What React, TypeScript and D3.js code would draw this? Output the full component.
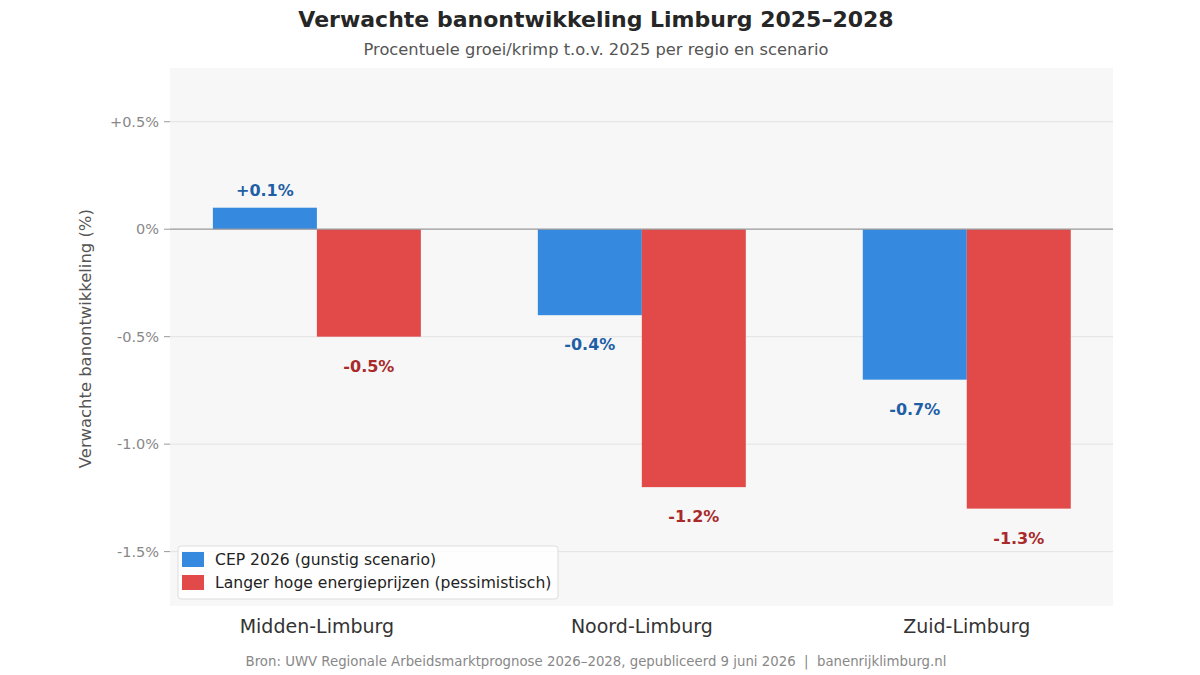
import React from 'react';
import * as d3 from 'd3';

const regions = ['Midden-Limburg', 'Noord-Limburg', 'Zuid-Limburg'];
const seriesNames = ['CEP 2026 (gunstig scenario)', 'Langer hoge energieprijzen (pessimistisch)'];
const cepValues = [0.1, -0.4, -0.7];
const energyValues = [-0.5, -1.2, -1.3];
const yTicks = [0.5, 0, -0.5, -1.0, -1.5];
const yTickLabels = ['+0.5%', '0%', '-0.5%', '-1.0%', '-1.5%'];

const barColors = ['#3589DE', '#E24A4A'];
const labelColors = ['#1F5FA6', '#A82A2A'];
const font = 'DejaVu Sans, sans-serif';

const W = 1200;
const H = 675;
const plot = { left: 170, right: 1113, top: 68, bottom: 606 };

const fmt = (v: number) => (v > 0 ? '+' : '') + v.toFixed(1) + '%';

export default function App() {
  const x = d3.scaleLinear().domain([-0.452, 2.45]).range([plot.left, plot.right]);
  const y = d3.scaleLinear().domain([0.75, -1.753]).range([plot.top, plot.bottom]);
  const barW = x(0.32) - x(0);
  const series = [cepValues, energyValues];

  return (
    <svg width={W} height={H} style={{ position: 'absolute', left: 0, top: 0, background: '#fff' }}>
      <text x={596} y={27} textAnchor="middle" fontFamily={font} fontWeight="bold" fontSize={22} fill="#262626">
        Verwachte banontwikkeling Limburg 2025–2028
      </text>
      <text x={596} y={55} textAnchor="middle" fontFamily={font} fontSize={16.3} fill="#555">
        Procentuele groei/krimp t.o.v. 2025 per regio en scenario
      </text>

      <rect x={plot.left} y={plot.top} width={plot.right - plot.left} height={plot.bottom - plot.top} fill="#F7F7F7" />

      {yTicks.map((t, i) => (
        <g key={t}>
          {t !== 0 && (
            <line x1={plot.left} x2={plot.right} y1={y(t)} y2={y(t)} stroke="#E3E3E3" strokeWidth={1} />
          )}
          <line x1={plot.left - 6} x2={plot.left} y1={y(t)} y2={y(t)} stroke="#999" strokeWidth={1} />
          <text x={plot.left - 11} y={y(t)} dy="0.35em" textAnchor="end" fontFamily={font} fontSize={14.5} fill="#888">
            {yTickLabels[i]}
          </text>
        </g>
      ))}

      <text
        transform={`translate(91,${y(-0.5) + 2}) rotate(-90)`}
        textAnchor="middle"
        fontFamily={font}
        fontSize={16.4}
        fill="#555"
      >
        Verwachte banontwikkeling (%)
      </text>

      {series.map((vals, s) =>
        vals.map((v, i) => {
          const x0 = s === 0 ? x(i) - barW : x(i);
          const yTop = Math.min(y(v), y(0));
          const h = Math.abs(y(v) - y(0));
          const ly = v >= 0 ? y(v) - 12 : y(v) + 35;
          return (
            <g key={`${s}-${i}`}>
              <rect x={x0} y={yTop} width={barW} height={h} fill={barColors[s]} />
              <text
                x={x0 + barW / 2}
                y={ly}
                textAnchor="middle"
                fontFamily={font}
                fontWeight="bold"
                fontSize={16}
                fill={labelColors[s]}
              >
                {fmt(v)}
              </text>
            </g>
          );
        })
      )}

      <line x1={plot.left} x2={plot.right} y1={y(0)} y2={y(0)} stroke="#999" strokeWidth={1.2} />

      {regions.map((r, i) => (
        <text key={r} x={x(i)} y={633} textAnchor="middle" fontFamily={font} fontSize={19} fill="#333">
          {r}
        </text>
      ))}

      <g>
        <rect x={178} y={546} width={380} height={53} rx={3} fill="#FFFFFF" fillOpacity={0.85} stroke="#DDD" />
        {seriesNames.map((n, i) => (
          <g key={n} transform={`translate(182,${552 + i * 23})`}>
            <rect x={0} y={0} width={22} height={15} fill={barColors[i]} />
            <text x={33} y={8} dy="0.35em" fontFamily={font} fontSize={15.6} fill="#222">
              {n}
            </text>
          </g>
        ))}
      </g>

      <text
        x={596}
        y={666}
        textAnchor="middle"
        fontFamily={font}
        fontSize={13.3}
        fill="#888"
        style={{ whiteSpace: 'pre' }}
      >
        {'Bron: UWV Regionale Arbeidsmarktprognose 2026–2028, gepubliceerd 9 juni 2026  |  banenrijklimburg.nl'}
      </text>
    </svg>
  );
}
